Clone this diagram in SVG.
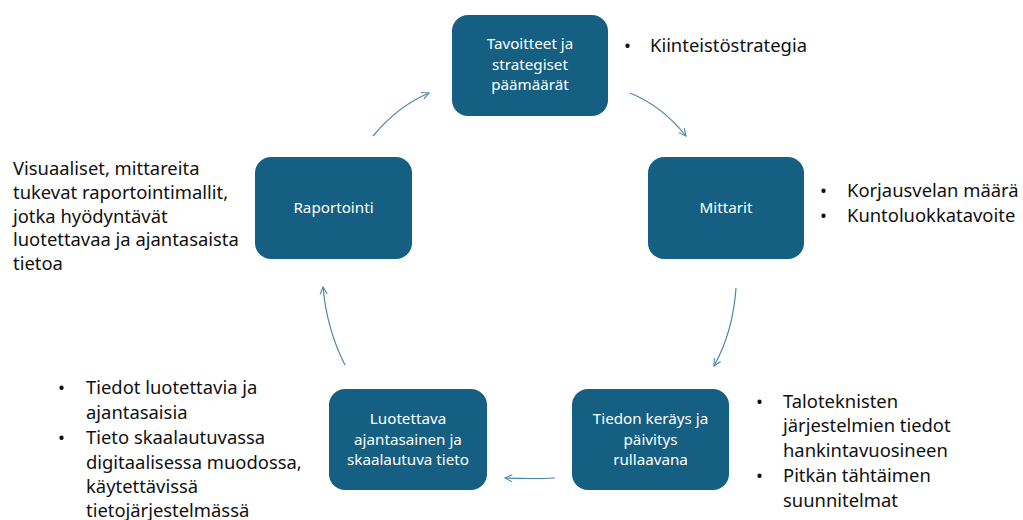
<svg xmlns="http://www.w3.org/2000/svg" width="1023" height="520" viewBox="0 0 1023 520">
<style>
.box{fill:#156082;}
.bt{font-family:"Noto Sans","Liberation Sans",Arial,sans-serif;font-size:15.2px;fill:#ffffff;text-anchor:middle;}
.st{font-family:"Noto Sans","Liberation Sans",Arial,sans-serif;font-size:18.4px;fill:#111111;}
.con{fill:none;stroke:#4a86aa;stroke-width:1.2;marker-end:url(#ah);}
</style>
<defs>
<marker id="ah" viewBox="0 0 10 10" refX="9" refY="5" markerWidth="9" markerHeight="9" orient="auto" markerUnits="userSpaceOnUse">
<path d="M1,1 L9,5 L1,9" fill="none" stroke="#4a86aa" stroke-width="1.2"/>
</marker>
</defs>
<rect width="1023" height="520" fill="#ffffff"/>
<g id="connectors">
<path class="con" d="M373,136 Q398,106 429,93"/>
<path class="con" d="M630,93 Q662,106 686,136"/>
<path class="con" d="M736,288 Q733,332 714,366"/>
<path class="con" d="M555,478 Q530,479 505,478"/>
<path class="con" d="M345,365 Q327,330 323,287"/>
</g>
<g id="node-tavoitteet">
<rect class="box" x="452" y="15" width="156" height="101" rx="16"/>
<text class="bt" x="530" y="49">Tavoitteet ja</text>
<text class="bt" x="530" y="69.5">strategiset</text>
<text class="bt" x="530" y="90">päämäärät</text>
</g>
<g id="node-mittarit">
<rect class="box" x="648" y="157" width="156" height="102" rx="16"/>
<text class="bt" x="726" y="213">Mittarit</text>
</g>
<g id="node-tiedon">
<rect class="box" x="572" y="389" width="157" height="101" rx="16"/>
<text class="bt" x="650.5" y="424">Tiedon keräys ja</text>
<text class="bt" x="650.5" y="444.5">päivitys</text>
<text class="bt" x="650.5" y="465">rullaavana</text>
</g>
<g id="node-luotettava">
<rect class="box" x="329" y="389" width="158" height="101" rx="16"/>
<text class="bt" x="408" y="424">Luotettava</text>
<text class="bt" x="408" y="444.5">ajantasainen ja</text>
<text class="bt" x="408" y="465">skaalautuva tieto</text>
</g>
<g id="node-raportointi">
<rect class="box" x="255" y="157" width="157" height="102" rx="16"/>
<text class="bt" x="333.5" y="213">Raportointi</text>
</g>
<g id="note-tavoitteet">
<text class="st" x="624" y="52">•</text>
<text class="st" x="650" y="52">Kiinteistöstrategia</text>
</g>
<g id="note-mittarit">
<text class="st" x="820" y="197">•</text>
<text class="st" x="847" y="197">Korjausvelan määrä</text>
<text class="st" x="820" y="222">•</text>
<text class="st" x="847" y="222">Kuntoluokkatavoite</text>
</g>
<g id="note-raportointi">
<text class="st" x="13" y="175">Visuaaliset, mittareita</text>
<text class="st" x="13" y="199">tukevat raportointimallit,</text>
<text class="st" x="13" y="223">jotka hyödyntävät</text>
<text class="st" x="13" y="246">luotettavaa ja ajantasaista</text>
<text class="st" x="13" y="270">tietoa</text>
</g>
<g id="note-luotettava">
<text class="st" x="58" y="394">•</text>
<text class="st" x="86" y="394">Tiedot luotettavia ja</text>
<text class="st" x="86" y="419">ajantasaisia</text>
<text class="st" x="58" y="444">•</text>
<text class="st" x="86" y="444">Tieto skaalautuvassa</text>
<text class="st" x="86" y="469">digitaalisessa muodossa,</text>
<text class="st" x="86" y="493">käytettävissä</text>
<text class="st" x="86" y="517">tietojärjestelmässä</text>
</g>
<g id="note-tiedon">
<text class="st" x="756" y="408">•</text>
<text class="st" x="783" y="408">Taloteknisten</text>
<text class="st" x="783" y="432">järjestelmien tiedot</text>
<text class="st" x="783" y="457">hankintavuosineen</text>
<text class="st" x="756" y="482">•</text>
<text class="st" x="783" y="482">Pitkän tähtäimen</text>
<text class="st" x="783" y="507">suunnitelmat</text>
</g>
</svg>
